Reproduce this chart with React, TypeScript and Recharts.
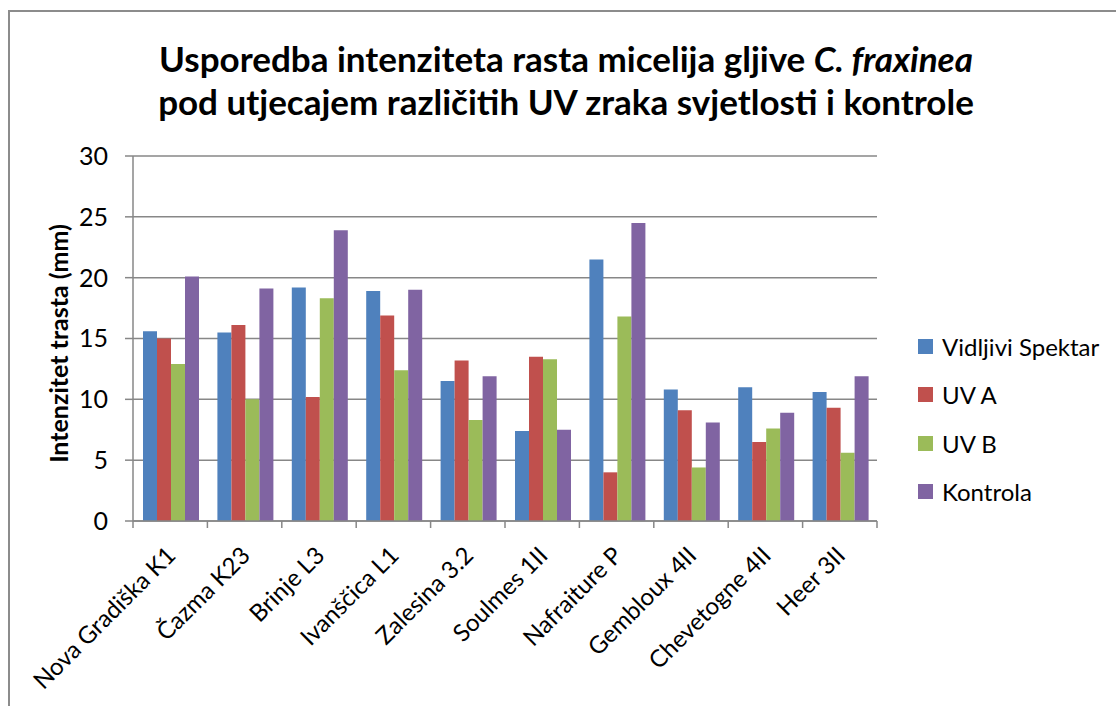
import { BarChart, Bar, XAxis, YAxis, CartesianGrid, Label } from 'recharts';

const categories = [
  'Nova Gradiška K1',
  'Čazma K23',
  'Brinje L3',
  'Ivanščica L1',
  'Zalesina 3.2',
  'Soulmes 1II',
  'Nafraiture P',
  'Gembloux 4II',
  'Chevetogne 4II',
  'Heer 3II',
];
const vidljivi = [15.6, 15.5, 19.2, 18.9, 11.5, 7.4, 21.5, 10.8, 11.0, 10.6];
const uvA = [15.0, 16.1, 10.2, 16.9, 13.2, 13.5, 4.0, 9.1, 6.5, 9.3];
const uvB = [12.9, 10.0, 18.3, 12.4, 8.3, 13.3, 16.8, 4.4, 7.6, 5.6];
const kontrola = [20.1, 19.1, 23.9, 19.0, 11.9, 7.5, 24.5, 8.1, 8.9, 11.9];
const yTicks = [0, 5, 10, 15, 20, 25, 30];

const series = [
  { key: 'vidljivi', name: 'Vidljivi Spektar', color: '#4F81BD' },
  { key: 'uvA', name: 'UV A', color: '#C0504D' },
  { key: 'uvB', name: 'UV B', color: '#9BBB59' },
  { key: 'kontrola', name: 'Kontrola', color: '#8064A2' },
];

const data = categories.map((name, i) => ({
  name,
  vidljivi: vidljivi[i],
  uvA: uvA[i],
  uvB: uvB[i],
  kontrola: kontrola[i],
}));

const W = 1116;
const H = 706;
const PLOT_L = 133;
const PLOT_R = 877;
const PLOT_T = 156;
const PLOT_B = 521;
const BAND = (PLOT_R - PLOT_L) / categories.length;
const FONT = 'Lato, "Open Sans", sans-serif';
const GRID = '#878787';

function CategoryTick(props: any) {
  const { x, y, payload, index } = props;
  const half = BAND / 2;
  return (
    <g>
      <line x1={x - half} x2={x - half} y1={y} y2={y + 7} stroke={GRID} strokeWidth={1.5} />
      {index === categories.length - 1 && (
        <line x1={x + half} x2={x + half} y1={y} y2={y + 7} stroke={GRID} strokeWidth={1.5} />
      )}
      <text
        transform={`translate(${x + 7},${y + 36}) rotate(-45)`}
        textAnchor="end"
        fontFamily={FONT}
        fontSize={24}
        fill="#000"
      >
        {payload.value}
      </text>
    </g>
  );
}

export default function App() {
  return (
    <div style={{ position: 'absolute', left: 0, top: 0, width: W, height: H, background: '#fff', overflow: 'hidden' }}>
      <div
        style={{
          position: 'absolute',
          left: 8,
          top: 10,
          width: W,
          height: H,
          borderLeft: '2px solid #8c8c8c',
          borderTop: '2px solid #8c8c8c',
        }}
      />
      <div
        style={{
          position: 'absolute',
          left: 0,
          top: 37,
          width: 1132,
          textAlign: 'center',
          fontFamily: FONT,
          fontWeight: 700,
          fontSize: 35,
          lineHeight: '43px',
          color: '#000',
        }}
      >
        <div>
          Usporedba intenziteta rasta micelija gljive <i>C. fraxinea</i>
        </div>
        <div>pod utjecajem različitih UV zraka svjetlosti i kontrole</div>
      </div>
      <BarChart
        width={W}
        height={H}
        data={data}
        margin={{ top: PLOT_T, right: W - PLOT_R, bottom: 0, left: 0 }}
        barCategoryGap={10}
        barGap={0}
        style={{ position: 'absolute', left: 0, top: 0 }}
      >
        <CartesianGrid vertical={false} stroke={GRID} strokeWidth={1.5} />
        <XAxis
          dataKey="name"
          interval={0}
          tickLine={false}
          tickSize={0}
          tickMargin={0}
          axisLine={{ stroke: GRID, strokeWidth: 1.5 }}
          tick={<CategoryTick />}
          height={H - PLOT_B}
        />
        <YAxis
          width={PLOT_L}
          domain={[0, 30]}
          ticks={yTicks}
          interval={0}
          tickSize={8}
          tickMargin={17}
          tickLine={{ stroke: GRID, strokeWidth: 1.5 }}
          axisLine={{ stroke: GRID, strokeWidth: 1.5 }}
          tick={{ fill: '#000', fontSize: 25, fontFamily: FONT }}
        >
          <Label
            content={() => (
              <text
                transform={`translate(68,${(PLOT_T + PLOT_B) / 2 + 5}) rotate(-90)`}
                textAnchor="middle"
                fontFamily={FONT}
                fontWeight={700}
                fontSize={25}
                fill="#000"
              >
                Intenzitet trasta (mm)
              </text>
            )}
          />
        </YAxis>
        {series.map((s) => (
          <Bar key={s.key} dataKey={s.key} name={s.name} fill={s.color} isAnimationActive={false} />
        ))}
      </BarChart>
      <div style={{ position: 'absolute', left: 918, top: 322, fontFamily: FONT, fontSize: 24, color: '#000' }}>
        {series.map((s) => (
          <div key={s.key} style={{ display: 'flex', alignItems: 'center', height: 48.5 }}>
            <span style={{ width: 15, height: 15, background: s.color, marginRight: 9, display: 'inline-block' }} />
            <span>{s.name}</span>
          </div>
        ))}
      </div>
    </div>
  );
}
